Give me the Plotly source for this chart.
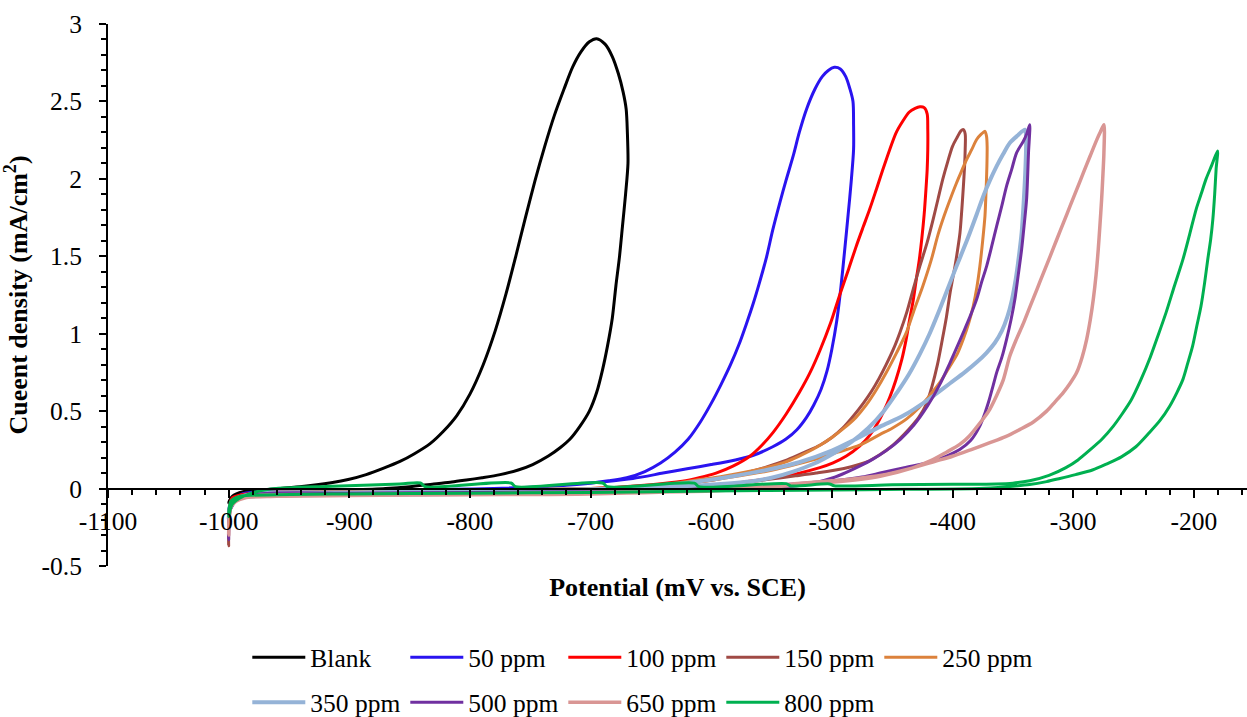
import plotly.graph_objects as go

FONT = "Liberation Serif"

# Cyclic voltammetry loops: potential (mV vs. SCE) and current density (mA/cm2).
# Each loop starts at -1000 mV, runs the anodic sweep up to the vertex and comes back.
blank_x = [-1000, -996, -988, -970, -940, -900, -870, -850, -830, -815, -803, -790, -775, -760, -748,
           -735, -725, -717, -709, -701, -695, -690, -686, -682, -679, -676, -673.5, -671, -669, -669.5,
           -670.5, -673, -677, -682, -688, -695, -701, -708, -715, -722, -730, -738, -746, -754, -762,
           -770, -779, -789, -800, -811, -822, -833, -846, -858, -872, -886, -900, -915, -941, -968,
           -988, -997, -1000]
blank_y = [-0.09, -0.05, -0.035, -0.028, -0.02, -0.01, 0.0, 0.012, 0.03, 0.042, 0.055, 0.07, 0.09, 0.12,
           0.155, 0.21, 0.265, 0.32, 0.40, 0.50, 0.62, 0.77, 0.92, 1.10, 1.31, 1.50, 1.70, 1.90, 2.10,
           2.30, 2.45, 2.56, 2.68, 2.79, 2.87, 2.905, 2.885, 2.82, 2.72, 2.58, 2.41, 2.21, 1.99, 1.75,
           1.50, 1.26, 1.02, 0.80, 0.61, 0.47, 0.37, 0.29, 0.225, 0.175, 0.13, 0.09, 0.06, 0.038, 0.012,
           -0.006, -0.02, -0.05, -0.09]

ppm50_x = [-1000, -997, -988, -960, -900, -800, -750, -720, -692, -665, -640, -620, -600, -580, -565,
           -549, -538, -529, -521, -515, -509, -504, -500, -496, -492.5, -489.5, -486.5, -484, -482,
           -482, -482.5, -485, -488.5, -493, -498, -503, -508, -514, -521, -527, -532, -538, -543, -549,
           -554, -560, -565, -571, -577, -584, -592, -600, -609, -619, -630, -642, -655, -670, -685,
           -700, -750, -850, -950, -990, -1000]
ppm50_y = [-0.15, -0.07, -0.045, -0.035, -0.025, -0.01, 0.008, 0.022, 0.042, 0.065, 0.10, 0.128, 0.155,
           0.185, 0.215, 0.27, 0.32, 0.38, 0.46, 0.54, 0.64, 0.76, 0.90, 1.08, 1.30, 1.53, 1.77, 1.98,
           2.19, 2.35, 2.50, 2.58, 2.66, 2.71, 2.72, 2.70, 2.66, 2.58, 2.45, 2.30, 2.15, 1.99, 1.85,
           1.67, 1.50, 1.33, 1.20, 1.06, 0.93, 0.80, 0.67, 0.55, 0.43, 0.32, 0.235, 0.165, 0.11, 0.07,
           0.05, 0.035, 0.008, -0.01, -0.02, -0.04, -0.15]

ppm100_x = [-1000, -997, -988, -950, -900, -800, -700, -650, -610, -585, -568, -548, -527, -510, -499,
            -488, -477, -469, -463, -457, -452, -447, -442, -438.5, -435.5, -432.5, -430, -427.5,
            -425.5, -423.5, -422, -421, -420.5, -420.5, -421, -423.5, -427, -431, -436, -441, -446.6,
            -452, -457.6, -463, -468.6, -474, -479.7, -486, -493.5, -501, -510, -518, -527, -538, -549,
            -558, -568, -582, -596, -610, -624, -650, -700, -800, -900, -980, -997, -1000]
ppm100_y = [-0.2, -0.08, -0.05, -0.04, -0.035, -0.025, -0.01, 0.0, 0.015, 0.03, 0.047, 0.07, 0.10,
            0.135, 0.166, 0.21, 0.274, 0.34, 0.41, 0.50, 0.59, 0.70, 0.834, 0.96, 1.093, 1.22, 1.352,
            1.48, 1.61, 1.77, 1.934, 2.06, 2.19, 2.32, 2.42, 2.46, 2.465, 2.455, 2.43, 2.375, 2.30, 2.19,
            2.063, 1.935, 1.805, 1.69, 1.567, 1.42, 1.25, 1.07, 0.89, 0.75, 0.62, 0.48, 0.36, 0.28,
            0.209, 0.145, 0.10, 0.07, 0.047, 0.025, 0.0, -0.015, -0.02, -0.03, -0.06, -0.2]

ppm150_x = [-1000, -998, -990, -960, -900, -800, -700, -650, -620, -590, -554, -530, -513, -490, -471.5,
            -460, -451, -444, -436, -428, -422, -417, -412.5, -408.5, -405, -402, -400, -397.9, -395.8,
            -393.8, -392.3, -391, -390, -389.5, -389.5, -391, -393, -396, -400, -404, -408, -412, -416,
            -421, -427, -432.5, -438, -443.5, -449, -455, -461, -467, -474, -482, -491, -500, -510, -521,
            -537, -554, -575, -596, -620, -650, -700, -800, -900, -980, -997, -1000]
ppm150_y = [-0.37, -0.12, -0.06, -0.045, -0.04, -0.03, -0.02, -0.008, 0.005, 0.025, 0.058, 0.082, 0.10,
            0.13, 0.17, 0.22, 0.27, 0.32, 0.385, 0.46, 0.54, 0.66, 0.80, 0.96, 1.11, 1.265, 1.35, 1.437,
            1.54, 1.652, 1.80, 1.95, 2.08, 2.19, 2.29, 2.318, 2.31, 2.27, 2.21, 2.11, 2.0, 1.87, 1.74,
            1.59, 1.438, 1.29, 1.136, 1.01, 0.90, 0.80, 0.71, 0.63, 0.55, 0.47, 0.39, 0.33, 0.28, 0.24,
            0.185, 0.14, 0.095, 0.058, 0.035, 0.02, 0.0, -0.015, -0.025, -0.04, -0.1, -0.37]

ppm250_x = [-1000, -998, -990, -960, -900, -800, -700, -650, -620, -596, -575, -554, -535, -513, -495,
            -477, -460, -450, -438, -428, -419, -410, -402, -396, -391.1, -386.5, -382.8, -379.8, -377.3,
            -375, -373.1, -372.2, -371.5, -371.3, -371.8, -373.1, -376, -380, -384, -388.3, -392.5,
            -396.6, -402, -407, -412, -417.5, -424.5, -431.5, -438.3, -446.5, -455, -463, -471.5, -480,
            -490, -500, -513, -527, -540.5, -555, -568, -590, -609.5, -630, -651, -700, -800, -900, -980,
            -997, -1000]
ppm250_y = [-0.25, -0.1, -0.06, -0.045, -0.04, -0.035, -0.02, 0.0, 0.03, 0.058, 0.085, 0.112, 0.145,
            0.19, 0.235, 0.28, 0.35, 0.39, 0.45, 0.52, 0.60, 0.69, 0.792, 0.87, 0.964, 1.07, 1.179, 1.30,
            1.437, 1.60, 1.759, 1.92, 2.08, 2.21, 2.275, 2.307, 2.29, 2.254, 2.19, 2.125, 2.05, 1.975,
            1.867, 1.76, 1.64, 1.48, 1.31, 1.16, 1.007, 0.875, 0.748, 0.64, 0.54, 0.46, 0.39, 0.33,
            0.265, 0.21, 0.166, 0.135, 0.112, 0.08, 0.058, 0.035, 0.015, 0.0, -0.01, -0.02, -0.035,
            -0.08, -0.25]

ppm350_x = [-1000, -998, -990, -960, -900, -800, -700, -650, -610, -582, -554, -527, -500, -480, -460,
            -441, -420, -402, -390, -380, -372, -365, -359, -354.5, -351, -348.5, -346.5, -344.5, -342.7,
            -341, -339.5, -339, -340, -346, -352.4, -358, -363.4, -369, -374.5, -380, -385.6, -391,
            -396.6, -402, -411, -419, -427, -436, -446, -457, -470, -484, -498, -515, -532, -550, -568,
            -610, -650, -700, -800, -900, -980, -997, -1000]
ppm350_y = [-0.2, -0.1, -0.06, -0.045, -0.04, -0.035, -0.02, 0.01, 0.047, 0.08, 0.12, 0.17, 0.245,
            0.32, 0.40, 0.47, 0.575, 0.68, 0.75, 0.815, 0.875, 0.94, 1.02, 1.11, 1.21, 1.31, 1.41, 1.53,
            1.652, 1.85, 2.08, 2.25, 2.318, 2.28, 2.233, 2.16, 2.082, 1.99, 1.888, 1.77, 1.652, 1.545,
            1.437, 1.33, 1.15, 1.00, 0.87, 0.74, 0.62, 0.50, 0.39, 0.30, 0.23, 0.16, 0.11, 0.07, 0.045,
            0.02, 0.005, -0.005, -0.015, -0.025, -0.035, -0.08, -0.2]

ppm500_x = [-1000, -998, -990, -960, -900, -800, -700, -650, -600, -550, -500, -475, -460, -440, -419,
            -405, -394, -385, -377.6, -373, -369.5, -366.5, -363.4, -359, -355.2, -351.5, -348.3, -345.5,
            -342.7, -340.5, -338.6, -337, -336, -338.5, -341.5, -346.9, -351, -355.2, -359.3, -363.4,
            -367.5, -371.7, -376, -380, -385.5, -391.1, -396.5, -402, -410.7, -421, -432, -443, -455,
            -466, -477, -488, -499, -513, -527, -560, -600, -700, -800, -900, -980, -997, -1000]
ppm500_y = [-0.33, -0.12, -0.06, -0.045, -0.04, -0.035, -0.03, -0.015, 0.0, 0.02, 0.05, 0.075, 0.10,
            0.135, 0.17, 0.21, 0.252, 0.31, 0.40, 0.49, 0.575, 0.66, 0.749, 0.85, 0.964, 1.09, 1.222,
            1.38, 1.545, 1.71, 1.867, 2.168, 2.35, 2.29, 2.24, 2.168, 2.06, 1.953, 1.82, 1.695, 1.565,
            1.437, 1.33, 1.222, 1.11, 1.007, 0.91, 0.814, 0.67, 0.53, 0.41, 0.32, 0.245, 0.19, 0.145,
            0.105, 0.07, 0.04, 0.02, 0.0, -0.01, -0.02, -0.025, -0.03, -0.04, -0.1, -0.33]

ppm650_x = [-1000, -998, -990, -960, -900, -800, -700, -600, -550, -500, -460, -433, -415, -400, -385,
            -369, -356, -344, -333, -322, -315, -308.2, -302.5, -297.1, -292.5, -288.8, -285.8, -283.3,
            -281, -279.2, -277.8, -276.4, -275.5, -274.5, -274.5, -277, -280, -286, -291.5, -297, -302.5,
            -308, -313.5, -319, -324.5, -330, -335.5, -341, -347, -352.5, -358, -363.5, -370, -377.6,
            -386, -394, -405, -418, -433, -460, -500, -550, -600, -700, -800, -900, -980, -997, -1000]
ppm650_y = [-0.3, -0.12, -0.065, -0.05, -0.045, -0.04, -0.035, -0.01, 0.02, 0.05, 0.085, 0.134, 0.175,
            0.209, 0.25, 0.296, 0.335, 0.382, 0.43, 0.50, 0.56, 0.62, 0.68, 0.749, 0.85, 0.964, 1.09,
            1.222, 1.38, 1.545, 1.70, 1.867, 2.0, 2.17, 2.35, 2.31, 2.26, 2.146, 2.04, 1.932, 1.825,
            1.717, 1.61, 1.501, 1.395, 1.287, 1.18, 1.072, 0.965, 0.856, 0.70, 0.60, 0.50, 0.42, 0.34,
            0.285, 0.235, 0.18, 0.134, 0.08, 0.04, 0.01, -0.015, -0.025, -0.035, -0.04, -0.05, -0.1,
            -0.3]

ppm800_x = [-1000, -998, -990, -960, -900, -800, -700, -600, -500, -440, -378, -355, -336, -322, -311,
            -298, -284, -272, -260, -248, -237, -228, -220, -214, -209, -205, -201, -197.5, -194, -191,
            -188.4, -186, -184.2, -182.7, -181.5, -180.3, -185, -189.8, -194, -198, -203.5, -209, -216,
            -223, -230, -236, -244, -252, -260, -267, -276, -286, -296, -306, -320, -336, -350, -364,
            -400, -450, -498, -502, -534, -538, -610, -614, -686, -690, -762, -766, -837, -841, -858,
            -914, -968, -988, -997, -1000]
ppm800_y = [-0.18, -0.08, -0.05, -0.04, -0.035, -0.03, -0.025, -0.015, -0.01, -0.005, 0.0, 0.012, 0.026,
            0.045, 0.065, 0.09, 0.12, 0.16, 0.205, 0.27, 0.36, 0.44, 0.532, 0.62, 0.705, 0.81, 0.92, 1.05,
            1.179, 1.33, 1.481, 1.61, 1.74, 1.90, 2.063, 2.18, 2.09, 2.0, 1.90, 1.805, 1.64, 1.48, 1.31,
            1.136, 0.98, 0.85, 0.70, 0.57, 0.475, 0.40, 0.32, 0.25, 0.185, 0.135, 0.085, 0.05, 0.035,
            0.03, 0.028, 0.024, 0.018, 0.03, 0.017, 0.032, 0.012, 0.035, 0.012, 0.036, 0.012, 0.036,
            0.012, 0.036, 0.03, 0.015, -0.006, -0.05, -0.1, -0.18]

series_names = ["Blank", "50 ppm", "100 ppm", "150 ppm", "250 ppm",
                "350 ppm", "500 ppm", "650 ppm", "800 ppm"]
series_x = [blank_x, ppm50_x, ppm100_x, ppm150_x, ppm250_x, ppm350_x, ppm500_x, ppm650_x, ppm800_x]
series_y = [blank_y, ppm50_y, ppm100_y, ppm150_y, ppm250_y, ppm350_y, ppm500_y, ppm650_y, ppm800_y]
series_colors = ["#000000", "#2A14F0", "#FF0000", "#A04A45", "#DC823C",
                 "#95B3D7", "#7030A0", "#D99694", "#00B050"]
series_widths = [3, 3, 3, 3, 3, 4, 3, 3.5, 3]

x_tick_values = list(range(-1100, -199, 100))
x_tick_labels = [str(v) for v in x_tick_values]
y_tick_values = [-0.5, 0, 0.5, 1, 1.5, 2, 2.5, 3]
y_tick_labels = ["-0.5", "0", "0.5", "1", "1.5", "2", "2.5", "3"]

fig = go.Figure()
for i, name in enumerate(series_names):
    fig.add_trace(go.Scatter(
        x=series_x[i], y=series_y[i], name=name, mode="lines",
        line=dict(color=series_colors[i], width=series_widths[i], shape="spline", smoothing=0.8),
        legend="legend" if i < 5 else "legend2",
    ))

legend_style = dict(
    orientation="h", xanchor="left", x=0.1223, yanchor="middle",
    font=dict(family=FONT, size=25.5, color="black"),
    itemwidth=53, entrywidth=90, entrywidthmode="pixels",
    bgcolor="rgba(0,0,0,0)", traceorder="normal",
)

fig.update_layout(
    width=1247, height=717,
    margin=dict(l=108, r=0, t=24, b=151, autoexpand=False),
    paper_bgcolor="white", plot_bgcolor="white",
    font=dict(family=FONT, size=25.5, color="black"),
    showlegend=True,
    legend=dict(legend_style, y=-0.1693),
    legend2=dict(legend_style, y=-0.2523),
    xaxis=dict(
        range=[-1100, -155.9], anchor="free", position=0.5 / 3.5,
        showline=True, linecolor="black", linewidth=2,
        tickmode="array", tickvals=x_tick_values, ticktext=x_tick_labels,
        ticks="outside", ticklen=8, tickwidth=1.5, tickcolor="black",
        ticklabelstandoff=2,
        minor=dict(tickmode="linear", tick0=-1100, dtick=20, ticks="outside", ticklen=5,
                   tickwidth=1.5, tickcolor="black", showgrid=False),
        showgrid=False, zeroline=False,
        title=dict(text="<b>Potential (mV vs. SCE)</b>", font=dict(family=FONT, size=26), standoff=42),
    ),
    yaxis=dict(
        range=[-0.5, 3], showline=True, linecolor="black", linewidth=2,
        tickmode="array", tickvals=y_tick_values, ticktext=y_tick_labels,
        ticks="outside", ticklen=7, tickwidth=1.5, tickcolor="black",
        ticklabelstandoff=12,
        minor=dict(tickmode="linear", tick0=-0.5, dtick=0.1, ticks="outside", ticklen=5,
                   tickwidth=1.5, tickcolor="black", showgrid=False),
        showgrid=False, zeroline=False,
        title=dict(text="<b>Cueent density (mA/cm<sup>2</sup>)</b>", font=dict(family=FONT, size=26),
                   standoff=12),
    ),
)

fig.write_html("out.html", post_script="document.body.style.margin='0';")
